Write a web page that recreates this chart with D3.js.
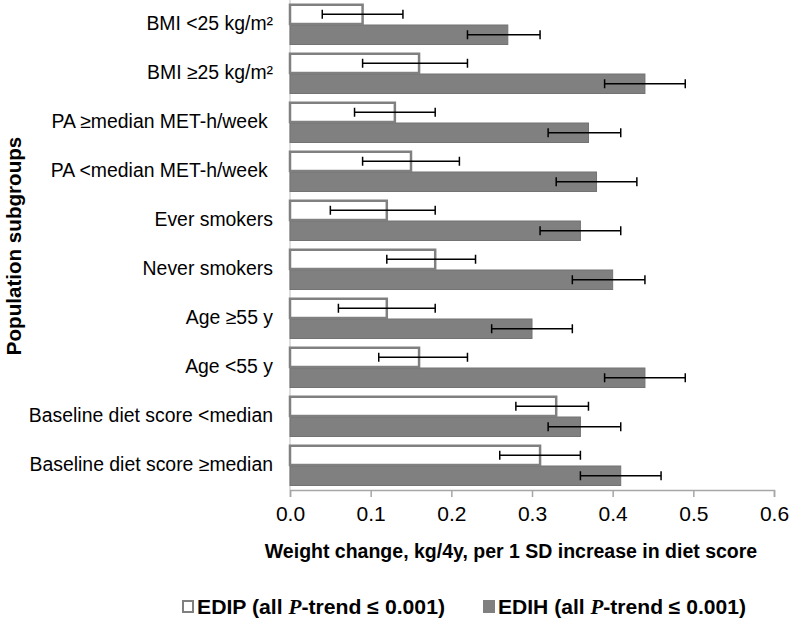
<!DOCTYPE html>
<html>
<head>
<meta charset="utf-8">
<script src="https://cdn.jsdelivr.net/npm/d3@7"></script>
<style>
  html, body { margin: 0; padding: 0; background: #fff; }
  svg { display: block; font-family: "Liberation Sans", Arial, sans-serif; }
</style>
</head>
<body>
<svg id="chart" width="794" height="626"></svg>
<script>
const categories = [
  "BMI <25 kg/m²",
  "BMI ≥25 kg/m²",
  "PA ≥median MET-h/week ",
  "PA <median MET-h/week ",
  "Ever smokers",
  "Never smokers",
  "Age ≥55 y",
  "Age <55 y",
  "Baseline diet score <median",
  "Baseline diet score ≥median"
];
const seriesNames = ["EDIP", "EDIH"];
const edipValues = [0.09, 0.16, 0.13, 0.15, 0.12, 0.18, 0.12, 0.16, 0.33, 0.31];
const edipLower  = [0.04, 0.09, 0.08, 0.09, 0.05, 0.12, 0.06, 0.11, 0.28, 0.26];
const edipUpper  = [0.14, 0.22, 0.18, 0.21, 0.18, 0.23, 0.18, 0.22, 0.37, 0.36];
const edihValues = [0.27, 0.44, 0.37, 0.38, 0.36, 0.40, 0.30, 0.44, 0.36, 0.41];
const edihLower  = [0.22, 0.39, 0.32, 0.33, 0.31, 0.35, 0.25, 0.39, 0.32, 0.36];
const edihUpper  = [0.31, 0.49, 0.41, 0.43, 0.41, 0.44, 0.35, 0.49, 0.41, 0.46];
const xTicks = [0.0, 0.1, 0.2, 0.3, 0.4, 0.5, 0.6];
const xTitle = "Weight change, kg/4y, per 1 SD increase in diet score";
const yTitle = "Population subgroups";

const rows = categories.map((c, i) => ({
  cat: c,
  vals: [
    {s: "EDIP", v: edipValues[i], lo: edipLower[i], hi: edipUpper[i]},
    {s: "EDIH", v: edihValues[i], lo: edihLower[i], hi: edihUpper[i]}
  ]
}));

const svg = d3.select("#chart");
const plotLeft = 290, plotRight = 774, plotTop = 0, plotBottom = 490;

const x = d3.scaleLinear().domain([0, 0.6]).range([plotLeft, plotRight]);
const y = d3.scaleBand().domain(categories).range([plotTop, plotBottom])
  .paddingInner(8/49).paddingOuter(4/49);
const ys = d3.scaleBand().domain(seriesNames).range([0, y.bandwidth()]).padding(0);

const fillColor = {EDIP: "#ffffff", EDIH: "#808080"};
const strokeColor = {EDIP: "#808080", EDIH: "#737373"};
const strokeW = {EDIP: 2.5, EDIH: 1};

// y axis line
svg.append("line")
  .attr("x1", plotLeft).attr("x2", plotLeft).attr("y1", plotTop).attr("y2", plotBottom)
  .attr("stroke", "#d4d4d4").attr("stroke-width", 1.5);

const g = svg.selectAll("g.grp").data(rows).join("g")
  .attr("class", "grp")
  .attr("transform", d => `translate(0,${y(d.cat)})`);

g.selectAll("rect").data(d => d.vals.slice().reverse()).join("rect")
  .attr("x", x(0))
  .attr("y", d => ys(d.s) + (d.s === "EDIP" ? 0.75 : 0.5))
  .attr("width", d => x(d.v) - x(0))
  .attr("height", d => ys.bandwidth() - (d.s === "EDIP" ? 1.25 : 1))
  .attr("fill", d => fillColor[d.s])
  .attr("stroke", d => strokeColor[d.s])
  .attr("stroke-width", d => strokeW[d.s]);

// error bars
const cap = 4.5;
g.selectAll("g.err").data(d => d.vals).join("g")
  .attr("class", "err")
  .each(function(d) {
    const cy = ys(d.s) + ys.bandwidth() / 2;
    const e = d3.select(this);
    e.append("line").attr("x1", x(d.lo)).attr("x2", x(d.hi)).attr("y1", cy).attr("y2", cy)
      .attr("stroke", "#000").attr("stroke-width", 1.5);
    [d.lo, d.hi].forEach(v => {
      e.append("line").attr("x1", x(v)).attr("x2", x(v)).attr("y1", cy - cap).attr("y2", cy + cap)
        .attr("stroke", "#000").attr("stroke-width", 1.5);
    });
  });

// category labels
svg.selectAll("text.cat").data(categories).join("text")
  .attr("class", "cat")
  .attr("x", 273)
  .attr("y", d => y(d) + y.bandwidth() / 2)
  .attr("text-anchor", "end")
  .attr("dominant-baseline", "middle")
  .attr("font-size", 19.4)
  .attr("fill", "#000")
  .style("white-space", "pre")
  .text(d => d);

// x axis
const xAxis = d3.axisBottom(x).tickValues(xTicks).tickFormat(d3.format(".1f")).tickSize(7).tickPadding(9);
const ax = svg.append("g").attr("transform", `translate(0,${plotBottom})`).call(xAxis);
ax.select(".domain").attr("stroke", "#a6a6a6").attr("stroke-width", 1.5);
ax.selectAll(".tick line").attr("stroke", "#a6a6a6").attr("stroke-width", 1.5);
ax.selectAll(".tick text").attr("font-size", 21).attr("fill", "#000")
  .attr("font-family", "'Liberation Sans', Arial, sans-serif");

// axis titles
svg.append("text")
  .attr("x", 511).attr("y", 558)
  .attr("text-anchor", "middle")
  .attr("font-size", 19.5).attr("font-weight", "bold")
  .text(xTitle);

svg.append("text")
  .attr("transform", "translate(21,246) rotate(-90)")
  .attr("text-anchor", "middle")
  .attr("font-size", 20.6).attr("font-weight", "bold")
  .text(yTitle);

// legend
const legendItems = [
  {s: "EDIP", x: 182},
  {s: "EDIH", x: 483}
];
const lg = svg.selectAll("g.leg").data(legendItems).join("g")
  .attr("class", "leg")
  .attr("transform", d => `translate(${d.x},600)`);
lg.append("rect")
  .attr("x", 1).attr("y", 1).attr("width", 10).attr("height", 11)
  .attr("fill", d => fillColor[d.s])
  .attr("stroke", "#808080").attr("stroke-width", 2);
const lt = lg.append("text")
  .attr("x", 15).attr("y", 14)
  .attr("font-size", 20).attr("font-weight", "bold")
  .attr("textLength", 248).attr("lengthAdjust", "spacingAndGlyphs");
lt.append("tspan").text(d => d.s + " (all ");
lt.append("tspan").attr("font-family", "'Liberation Serif', 'DejaVu Serif', serif")
  .attr("font-style", "italic").text("P");
lt.append("tspan").text("-trend ≤ 0.001)");
</script>
</body>
</html>
